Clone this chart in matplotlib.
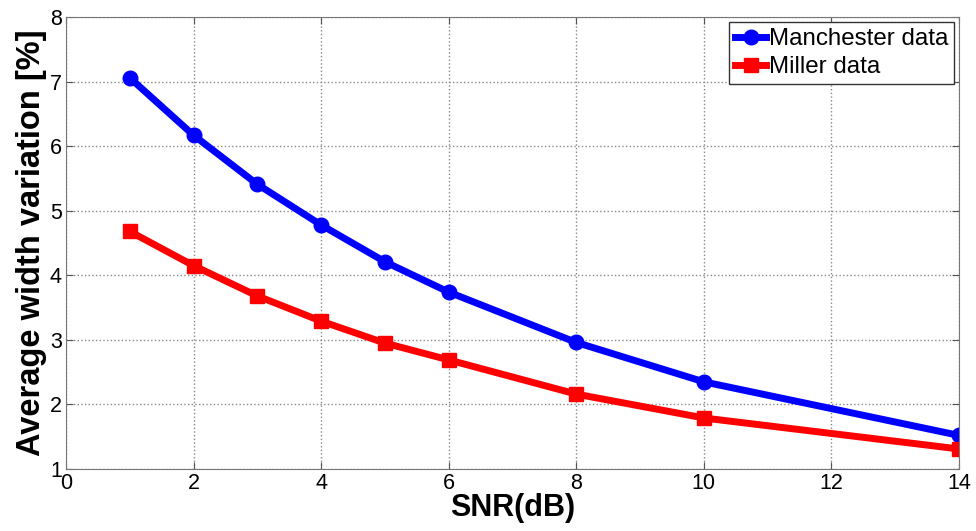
import matplotlib
matplotlib.use('Agg')
import matplotlib.pyplot as plt

plt.rcParams['font.family'] = ['Liberation Sans', 'DejaVu Sans']

snr = [1, 2, 3, 4, 5, 6, 8, 10, 14]
manchester = [7.06, 6.17, 5.41, 4.78, 4.21, 3.74, 2.96, 2.35, 1.52]
miller = [4.68, 4.15, 3.68, 3.29, 2.95, 2.69, 2.16, 1.79, 1.31]

fig = plt.figure(figsize=(9.76, 5.31), dpi=100)
axe = fig.add_axes([0.0676, 0.1168, 0.915, 0.851])

axe.plot(snr, manchester, color='#0000ff', lw=5, marker='o', ms=10.5, label='Manchester data')
axe.plot(snr, miller, color='#ff0000', lw=5, marker='s', ms=10.5, label='Miller data')

axe.set_xlim(0, 14)
axe.set_ylim(1, 8)
axe.set_xticks(range(0, 15, 2))
axe.set_yticks(range(1, 9))
axe.grid(True, ls=':', color='#888888', lw=1)
axe.tick_params(direction='in', labelsize=15.5, top=True, right=True, length=5, color='#555555', pad=3)
for sp in axe.spines.values():
    sp.set_color('#777777')

axe.set_xlabel('SNR(dB)', fontsize=22, fontweight='bold', labelpad=-1)
axe.set_ylabel('Average width variation [%]', fontsize=23.5, fontweight='bold', labelpad=2)

leg = axe.legend(loc='upper right', fontsize=17.4, handlelength=1.3, handletextpad=0.1,
                 borderaxespad=0.2, fancybox=False, edgecolor='#333333', framealpha=1,
                 borderpad=0.25, labelspacing=0.25)
leg.get_frame().set_linewidth(1)

fig.savefig('out.png', dpi=100)
